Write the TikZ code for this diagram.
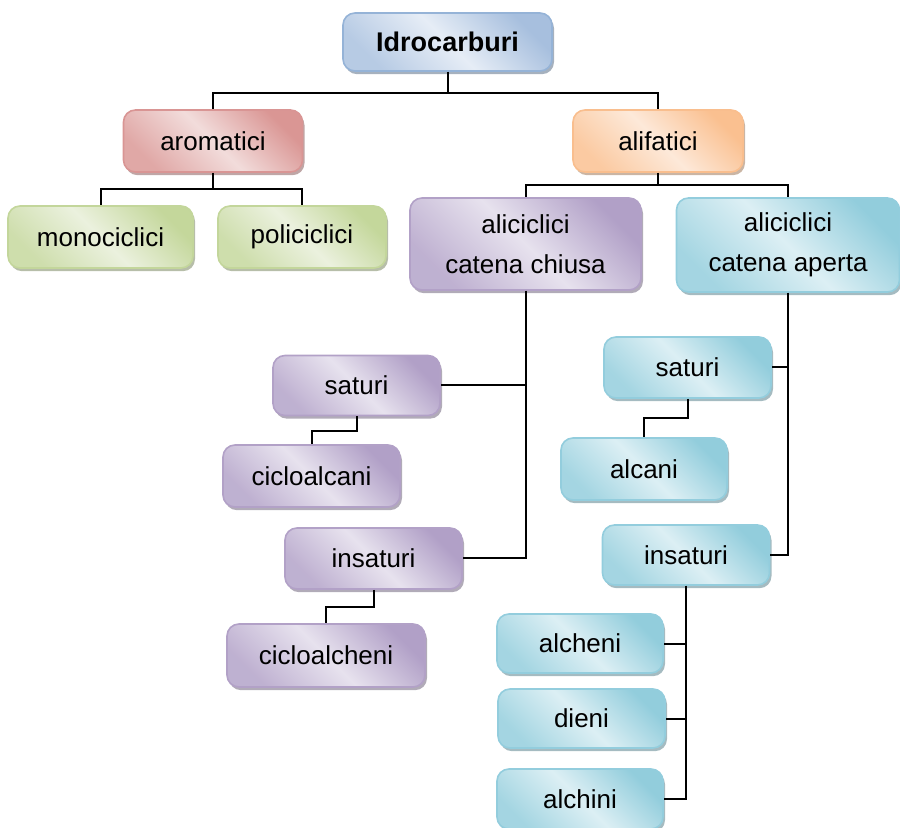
\documentclass[tikz,border=0pt]{standalone}
\usepackage{fontspec}
\setmainfont{Liberation Sans}
\usetikzlibrary{shadows}
\definecolor{blueD}{HTML}{A7BFDE}\definecolor{blueL}{HTML}{E6EDF6}\definecolor{blueB}{HTML}{95B3D7}
\definecolor{redD}{HTML}{DA9694}\definecolor{redL}{HTML}{F2DCDB}\definecolor{redB}{HTML}{D99594}
\definecolor{greenD}{HTML}{C4D79B}\definecolor{greenL}{HTML}{EBF1DE}\definecolor{greenB}{HTML}{C3D69B}
\definecolor{orangeD}{HTML}{FAC090}\definecolor{orangeL}{HTML}{FDE9D9}\definecolor{orangeB}{HTML}{F9BE8E}
\definecolor{purpleD}{HTML}{B1A0C7}\definecolor{purpleL}{HTML}{E7E2EE}\definecolor{purpleB}{HTML}{B2A1C7}
\definecolor{tealD}{HTML}{92CDDC}\definecolor{tealL}{HTML}{DCEFF4}\definecolor{tealB}{HTML}{93CDDD}
\tikzset{
  box/.style n args={3}{rounded corners=6pt, line width=0.8pt, align=center, inner sep=0pt,
    font=\fontsize{13}{20}\selectfont, draw=#3,
    top color=#1, bottom color=#1!75!#2, middle color=#2, shading angle=-45,
    drop shadow={shadow xshift=1pt, shadow yshift=-1.6pt, fill=#3!65!black!80, opacity=0.7}},
  bluebox/.style={box={blueD}{blueL}{blueB}},
  redbox/.style={box={redD}{redL}{redB}},
  greenbox/.style={box={greenD}{greenL}{greenB}},
  orangebox/.style={box={orangeD}{orangeL}{orangeB}},
  purplebox/.style={box={purpleD}{purpleL}{purpleB}},
  tealbox/.style={box={tealD}{tealL}{tealB}},
  conn/.style={line width=1pt, black},
}
\begin{document}
\begin{tikzpicture}[x=0.5pt,y=-0.5pt]
\useasboundingbox (0,0) rectangle (900,828);
% level 0
\node[bluebox, minimum width=104.5pt, minimum height=29pt, font=\fontsize{13.5}{20}\selectfont\bfseries] (idro) at (447.5,42) {Idrocarburi};
% level 1
\node[redbox, minimum width=89.5pt, minimum height=31pt] (arom) at (213,141) {aromatici};
\node[orangebox, minimum width=85pt, minimum height=31pt] (alif) at (658,141) {alifatici};
% aromatici children
\node[greenbox, minimum width=92.5pt, minimum height=31pt] (mono) at (100.5,237) {monociclici};
\node[greenbox, minimum width=84pt, minimum height=31pt] (poli) at (302,237) {policiclici};
% alifatici children
\node[purplebox, minimum width=115.5pt, minimum height=46pt] (chiusa) at (525.5,244) {aliciclici\\catena chiusa};
\node[tealbox, minimum width=111.5pt, minimum height=47pt] (aperta) at (788,245) {aliciclici\\catena aperta};
% chiusa children
\node[purplebox, minimum width=83.5pt, minimum height=30pt] (satc) at (356.5,385.5) {saturi};
\node[purplebox, minimum width=88.5pt, minimum height=31pt] (cicloalcani) at (311.5,476) {cicloalcani};
\node[purplebox, minimum width=88.5pt, minimum height=30.5pt] (insc) at (373.5,558.5) {insaturi};
\node[purplebox, minimum width=99pt, minimum height=31.5pt] (cicloalcheni) at (326,655.5) {cicloalcheni};
% aperta children
\node[tealbox, minimum width=83.5pt, minimum height=30.5pt] (sata) at (687.5,367.5) {saturi};
\node[tealbox, minimum width=83pt, minimum height=31pt] (alcani) at (644,469) {alcani};
\node[tealbox, minimum width=83.5pt, minimum height=30pt] (insa) at (686,555) {insaturi};
\node[tealbox, minimum width=83pt, minimum height=29.5pt] (alcheni) at (580,643.5) {alcheni};
\node[tealbox, minimum width=83.5pt, minimum height=29.5pt] (dieni) at (581.5,718.5) {dieni};
\node[tealbox, minimum width=83pt, minimum height=30pt] (alchini) at (580,799) {alchini};
% connectors
\draw[conn] (idro.south) -- ++(0,21) -| (arom.north);
\draw[conn] (idro.south) -- ++(0,21) -| (alif.north);
\draw[conn] (arom.south) -- ++(0,16) -| (mono.north);
\draw[conn] (arom.south) -- ++(0,16) -| (poli.north);
\draw[conn] (alif.south) -- ++(0,12) -| (chiusa.north);
\draw[conn] (alif.south) -- ++(0,12) -| (aperta.north);
\draw[conn] (chiusa.south) |- (satc.east);
\draw[conn] (chiusa.south) |- (insc.east);
\draw[conn] (satc.south) -- ++(0,15) -| (cicloalcani.north);
\draw[conn] (insc.south) -- ++(0,17) -| (cicloalcheni.north);
\draw[conn] (aperta.south) |- (sata.east);
\draw[conn] (aperta.south) |- (insa.east);
\draw[conn] (sata.south) -- ++(0,19) -| (alcani.north);
\draw[conn] (insa.south) |- (alcheni.east);
\draw[conn] (insa.south) |- (dieni.east);
\draw[conn] (insa.south) |- (alchini.east);
\end{tikzpicture}
\end{document}
